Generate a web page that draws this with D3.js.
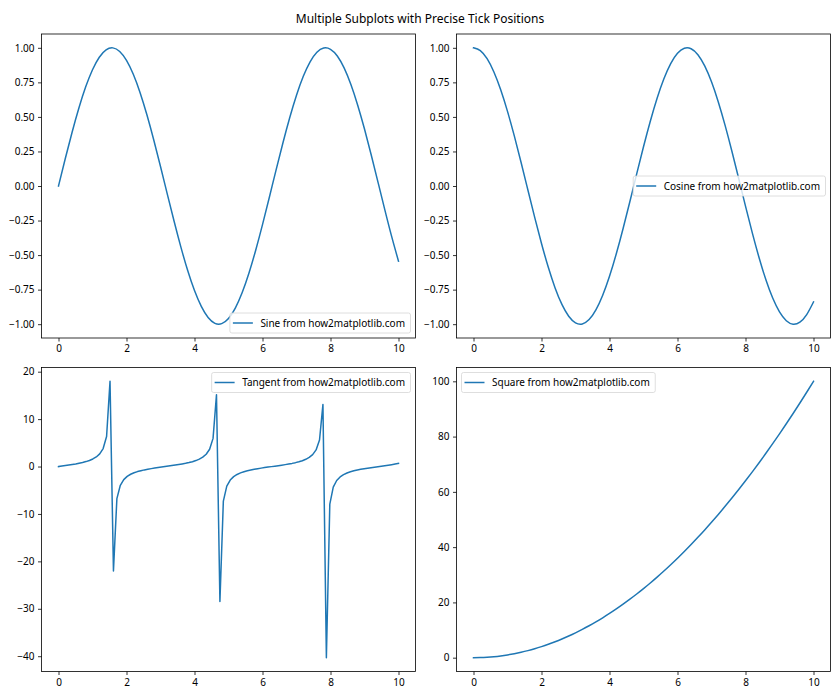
<!DOCTYPE html>
<html>
<head>
<meta charset="utf-8">
<script src="https://cdn.jsdelivr.net/npm/d3@7"></script>
<style>
  html, body { margin: 0; padding: 0; background: #fff; }
  svg { display: block; }
  text { font-family: "Noto Sans", "Open Sans", sans-serif; }
</style>
</head>
<body>
<svg id="chart" width="840" height="700"></svg>
<script>
// ---- data ----
const title = "Multiple Subplots with Precise Tick Positions";

// x samples for the smooth curves (step 0.2)
const xSmooth = [0,0.2,0.4,0.6,0.8,1.0,1.2,1.4,1.6,1.8,2.0,2.2,2.4,2.6,2.8,3.0,3.2,3.4,3.6,3.8,4.0,4.2,4.4,4.6,4.8,5.0,5.2,5.4,5.6,5.8,6.0,6.2,6.4,6.6,6.8,7.0,7.2,7.4,7.6,7.8,8.0,8.2,8.4,8.6,8.8,9.0,9.2,9.4,9.6,9.8,10.0];

const sineValues = [0,0.1987,0.3894,0.5646,0.7174,0.8415,0.9320,0.9854,0.9996,0.9738,0.9093,0.8085,0.6755,0.5155,0.3350,0.1411,-0.0584,-0.2555,-0.4425,-0.6119,-0.7568,-0.8716,-0.9516,-0.9937,-0.9962,-0.9589,-0.8835,-0.7728,-0.6313,-0.4646,-0.2794,-0.0831,0.1165,0.3115,0.4941,0.6570,0.7937,0.8987,0.9679,0.9985,0.9894,0.9407,0.8546,0.7344,0.5849,0.4121,0.2229,0.0248,-0.1743,-0.3665,-0.5440];

const cosineValues = [1,0.9801,0.9211,0.8253,0.6967,0.5403,0.3624,0.1700,-0.0292,-0.2272,-0.4161,-0.5885,-0.7374,-0.8569,-0.9422,-0.9900,-0.9983,-0.9668,-0.8968,-0.7910,-0.6536,-0.4903,-0.3073,-0.1122,0.0875,0.2837,0.4685,0.6347,0.7756,0.8855,0.9602,0.9965,0.9932,0.9502,0.8691,0.7539,0.6084,0.4385,0.2513,0.0540,-0.1455,-0.3392,-0.5193,-0.6787,-0.8111,-0.9111,-0.9748,-0.9997,-0.9847,-0.9304,-0.8391];

const squareValues = [0,0.04,0.16,0.36,0.64,1,1.44,1.96,2.56,3.24,4,4.84,5.76,6.76,7.84,9,10.24,11.56,12.96,14.44,16,17.64,19.36,21.16,23.04,25,27.04,29.16,31.36,33.64,36,38.44,40.96,43.56,46.24,49,51.84,54.76,57.76,60.84,64,67.24,70.56,73.96,77.44,81,84.64,88.36,92.16,96.04,100];

// x samples for the tangent curve (100 points from 0 to 10)
const xTangent = [0,0.1010,0.2020,0.3030,0.4040,0.5051,0.6061,0.7071,0.8081,0.9091,1.0101,1.1111,1.2121,1.3131,1.4141,1.5152,1.6162,1.7172,1.8182,1.9192,2.0202,2.1212,2.2222,2.3232,2.4242,2.5253,2.6263,2.7273,2.8283,2.9293,3.0303,3.1313,3.2323,3.3333,3.4343,3.5354,3.6364,3.7374,3.8384,3.9394,4.0404,4.1414,4.2424,4.3434,4.4444,4.5455,4.6465,4.7475,4.8485,4.9495,5.0505,5.1515,5.2525,5.3535,5.4545,5.5556,5.6566,5.7576,5.8586,5.9596,6.0606,6.1616,6.2626,6.3636,6.4646,6.5657,6.6667,6.7677,6.8687,6.9697,7.0707,7.1717,7.2727,7.3737,7.4747,7.5758,7.6768,7.7778,7.8788,7.9798,8.0808,8.1818,8.2828,8.3838,8.4848,8.5859,8.6869,8.7879,8.8889,8.9899,9.0909,9.1919,9.2929,9.3939,9.4949,9.5960,9.6970,9.7980,9.8990,10.0];

const tangentValues = [0,0.1014,0.2048,0.3128,0.4276,0.5532,0.6960,0.8549,1.0428,1.2837,1.5935,2.019,2.669,3.794,6.33,17.97,-22.01,-6.78,-3.96,-2.753,-2.073,-1.629,-1.315,-1.068,-0.872,-0.708,-0.566,-0.440,-0.324,-0.216,-0.1118,-0.0103,0.0909,0.1941,0.3013,0.4157,0.5395,0.678,0.837,1.025,1.257,1.557,1.969,2.587,3.643,5.935,15.15,-28.48,-7.30,-4.139,-2.844,-2.130,-1.669,-1.342,-1.090,-0.891,-0.724,-0.580,-0.452,-0.335,-0.226,-0.1222,-0.0206,0.0806,0.1834,0.2902,0.4035,0.5262,0.6628,0.8192,1.0039,1.2304,1.5214,1.918,2.509,3.501,5.584,13.10,-40.31,-7.91,-4.333,-2.940,-2.187,-1.707,-1.369,-1.113,-0.909,-0.740,-0.594,-0.465,-0.347,-0.237,-0.1327,-0.0309,0.0702,0.1729,0.2792,0.3916,0.5145,0.6484];

const xTicks = [0,2,4,6,8,10];
const trigTicks = [-1.00,-0.75,-0.50,-0.25,0.00,0.25,0.50,0.75,1.00];
const tangentTicks = [-40,-30,-20,-10,0,10,20];
const squareTicks = [0,20,40,60,80,100];

const labels = ["Sine from how2matplotlib.com","Cosine from how2matplotlib.com","Tangent from how2matplotlib.com","Square from how2matplotlib.com"];

// ---- drawing ----
const svg = d3.select("#chart");
const color = "#1f77b4";
const fmtMinus = s => s.replace("-", "\u2212");

svg.append("text").attr("x", 420).attr("y", 23).attr("text-anchor", "middle")
  .attr("font-size", 12).attr("fill", "#000").text(title);

const boxes = [
  {x0: 41.5, x1: 415.5, y0: 34, y1: 338},
  {x0: 456.5, x1: 830.5, y0: 34, y1: 338},
  {x0: 41.5, x1: 415.5, y0: 367.5, y1: 671.5},
  {x0: 456.5, x1: 830.5, y0: 367.5, y1: 671.5}
];

function extentPad(vals) {
  const mn = d3.min(vals), mx = d3.max(vals);
  const p = (mx - mn) * 0.05;
  return [mn - p, mx + p];
}

const panels = [
  {xs: xSmooth, ys: sineValues, yDomain: [-1.1, 1.1], ticks: trigTicks, fmt: d3.format(".2f"), label: labels[0], loc: "lower right", smooth: true},
  {xs: xSmooth, ys: cosineValues, yDomain: [-1.1, 1.1], ticks: trigTicks, fmt: d3.format(".2f"), label: labels[1], loc: "center right", smooth: true},
  {xs: xTangent, ys: tangentValues, yDomain: extentPad(tangentValues), ticks: tangentTicks, fmt: d3.format("d"), label: labels[2], loc: "upper right", smooth: false},
  {xs: xSmooth, ys: squareValues, yDomain: extentPad(squareValues), ticks: squareTicks, fmt: d3.format("d"), label: labels[3], loc: "upper left", smooth: true}
];

panels.forEach((p, i) => {
  const b = boxes[i];
  const x = d3.scaleLinear().domain([-0.5, 10.5]).range([b.x0, b.x1]);
  const y = d3.scaleLinear().domain(p.yDomain).range([b.y1, b.y0]);
  const g = svg.append("g");

  const clipId = "clip" + i;
  g.append("clipPath").attr("id", clipId).append("rect")
    .attr("x", b.x0).attr("y", b.y0).attr("width", b.x1 - b.x0).attr("height", b.y1 - b.y0);

  const data = p.xs.map((xv, k) => [xv, p.ys[k]]);
  const line = d3.line().x(d => x(d[0])).y(d => y(d[1]));
  if (p.smooth) line.curve(d3.curveNatural);
  g.append("path").datum(data)
    .attr("clip-path", `url(#${clipId})`)
    .attr("fill", "none").attr("stroke", color).attr("stroke-width", 1.5)
    .attr("stroke-linejoin", "round").attr("stroke-linecap", "square")
    .attr("d", line);

  // axes
  const xAxis = d3.axisBottom(x).tickValues(xTicks).tickSize(3.5).tickPadding(3.5).tickFormat(d3.format("d"));
  const yAxis = d3.axisLeft(y).tickValues(p.ticks).tickSize(3.5).tickPadding(3.5).tickFormat(d => fmtMinus(p.fmt(d)));

  const gx = g.append("g").attr("transform", `translate(0,${b.y1})`).call(xAxis);
  const gy = g.append("g").attr("transform", `translate(${b.x0},0)`).call(yAxis);
  [gx, gy].forEach(a => {
    a.select(".domain").remove();
    a.selectAll(".tick line").attr("stroke", "#000").attr("stroke-width", 0.8);
    a.selectAll(".tick text").attr("font-size", 10).attr("fill", "#000")
      .attr("font-family", '"Noto Sans", "Open Sans", sans-serif');
  });

  // spines
  g.append("rect").attr("x", b.x0).attr("y", b.y0)
    .attr("width", b.x1 - b.x0).attr("height", b.y1 - b.y0)
    .attr("fill", "none").attr("stroke", "#000").attr("stroke-width", 0.8);

  // legend
  const lg = g.append("g");
  const txt = lg.append("text").attr("font-size", 10).attr("fill", "#000").text(p.label);
  const tw = txt.node().getComputedTextLength();
  const lw = tw + 36, lh = 20;
  let lx, ly;
  if (p.loc === "lower right") { lx = b.x1 - 5 - lw; ly = b.y1 - 5 - lh; }
  else if (p.loc === "center right") { lx = b.x1 - 5 - lw; ly = (b.y0 + b.y1) / 2 - lh / 2; }
  else if (p.loc === "upper right") { lx = b.x1 - 5 - lw; ly = b.y0 + 5; }
  else { lx = b.x0 + 5; ly = b.y0 + 5; }
  lg.insert("rect", "text").attr("x", lx).attr("y", ly).attr("width", lw).attr("height", lh)
    .attr("rx", 2).attr("fill", "#fff").attr("fill-opacity", 0.8)
    .attr("stroke", "#d6d6d6").attr("stroke-width", 0.8);
  lg.append("line").attr("x1", lx + 3).attr("x2", lx + 23)
    .attr("y1", ly + lh / 2).attr("y2", ly + lh / 2)
    .attr("stroke", color).attr("stroke-width", 1.5);
  txt.attr("x", lx + 30.5).attr("y", ly + lh / 2 + 3.6);
});
</script>
</body>
</html>
